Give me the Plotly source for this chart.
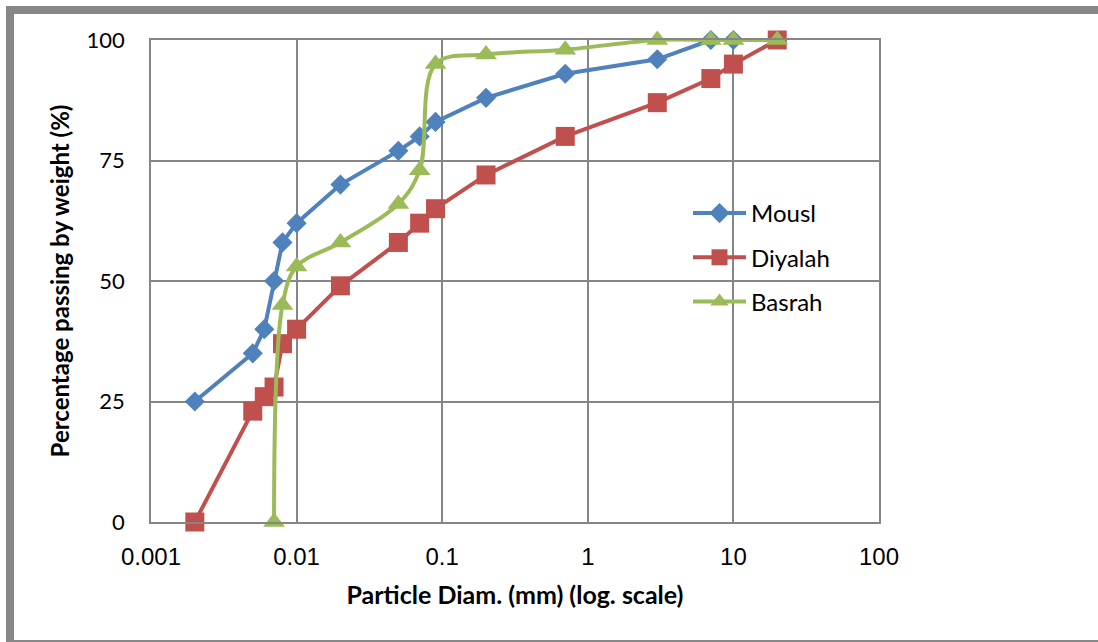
import plotly.graph_objects as go

# Data
mousl_x = [0.002, 0.005, 0.006, 0.007, 0.008, 0.01, 0.02, 0.05, 0.07, 0.09, 0.2, 0.7, 3, 7, 10]
mousl_y = [25, 35, 40, 50, 58, 62, 70, 77, 80, 83, 88, 93, 96, 100, 100]

diyalah_x = [0.002, 0.005, 0.006, 0.007, 0.008, 0.01, 0.02, 0.05, 0.07, 0.09, 0.2, 0.7, 3, 7, 10, 20]
diyalah_y = [0, 23, 26, 28, 37, 40, 49, 58, 62, 65, 72, 80, 87, 92, 95, 100]

basrah_x = [0.007, 0.008, 0.01, 0.02, 0.05, 0.07, 0.09, 0.2, 0.7, 3, 7, 10, 20]
basrah_y = [0, 45, 53, 58, 66, 73, 95, 97, 98, 100, 100, 100, 100]

x_ticks = [0.001, 0.01, 0.1, 1, 10, 100]
x_tick_text = ["0.001", "0.01", "0.1", "1", "10", "100"]
y_ticks = [0, 25, 50, 75, 100]

FONT = "Lato"
GRID = "#868686"

fig = go.Figure()
fig.add_trace(go.Scatter(x=mousl_x, y=mousl_y, name="Mousl", mode="lines+markers",
                         legendgroup="a", cliponaxis=False,
                         line=dict(color="#4F81BD", width=4),
                         marker=dict(symbol="diamond", size=15.5, color="#4F81BD")))
fig.add_trace(go.Scatter(x=diyalah_x, y=diyalah_y, name="Diyalah", mode="lines+markers",
                         legendgroup="b", cliponaxis=False,
                         line=dict(color="#C0504D", width=4),
                         marker=dict(symbol="square", size=19, color="#C0504D")))
fig.add_trace(go.Scatter(x=basrah_x, y=basrah_y, name="Basrah", mode="lines+markers",
                         legendgroup="c", cliponaxis=False,
                         line=dict(color="#9BBB59", width=4, shape="spline", smoothing=1),
                         marker=dict(symbol="triangle-up", size=19, color="#9BBB59")))

# outer frame
fig.add_shape(type="rect", xref="paper", yref="paper",
              x0=(10 - 151) / 728, x1=(1104 - 151) / 728,
              y0=(522 - 644) / 482, y1=(522 - 10) / 482,
              line=dict(color="#878787", width=8), layer="below")

fig.update_layout(
    width=1098, height=642,
    margin=dict(l=151, r=219, t=40, b=120),
    paper_bgcolor="white", plot_bgcolor="white",
    font=dict(family=FONT, color="black"),
    showlegend=True,
    legend=dict(x=(688 - 151) / 728, y=(522 - 191) / 482, xanchor="left", yanchor="top",
                font=dict(size=24, family=FONT), tracegroupgap=10,
                bgcolor="rgba(0,0,0,0)", itemwidth=53),
    xaxis=dict(type="log", range=[-3, 2], tickvals=x_ticks, ticktext=x_tick_text,
               showgrid=True, gridcolor=GRID, gridwidth=1.5,
               showline=True, linecolor=GRID, linewidth=1.5, mirror=True,
               zeroline=False, ticks="",
               tickfont=dict(size=24, family="Liberation Sans"),
               ticklabelstandoff=12,
               title=dict(text="<b>Particle Diam. (mm) (log. scale)</b>",
                          font=dict(size=25, family=FONT), standoff=18)),
    yaxis=dict(range=[0, 100], tickvals=y_ticks,
               showgrid=True, gridcolor=GRID, gridwidth=1.5,
               showline=True, linecolor=GRID, linewidth=1.5, mirror=True,
               zeroline=False, ticks="", tickfont=dict(size=22, family=FONT),
               ticklabelstandoff=20,
               title=dict(text="<b>Percentage passing by weight (%)</b>",
                          font=dict(size=24, family=FONT), standoff=10)),
)

fig.write_html("out.html")
